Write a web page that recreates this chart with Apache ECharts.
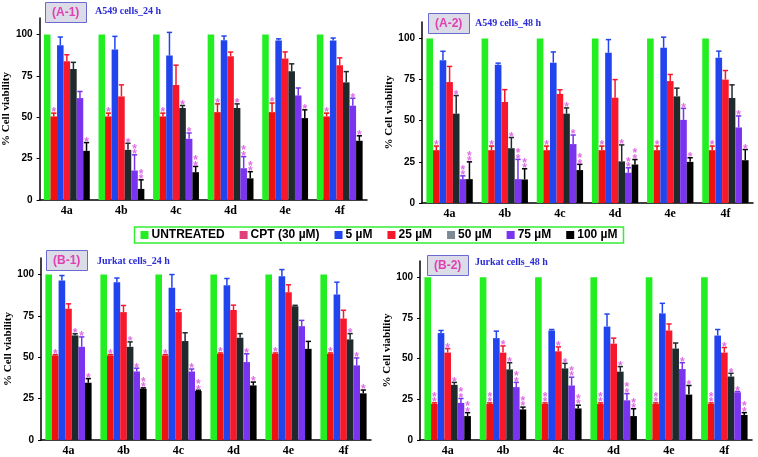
<!DOCTYPE html>
<html>
<head>
<meta charset="utf-8">
<script src="https://cdn.jsdelivr.net/npm/echarts@6/dist/echarts.min.js"></script>
<style>
  html, body { margin: 0; background: #fff; }
  #main { width: 758px; height: 457px; }
</style>
</head>
<body>
<div id="main"></div>
<script>
// categories + legend
const categories = ['4a', '4b', '4c', '4d', '4e', '4f'];
const seriesNames = ['UNTREATED', 'CPT (30 µM)', '5 µM', '25 µM', '50 µM', '75 µM', '100 µM'];
const untreated = [100, 100, 100, 100, 100, 100];

// rows: CPT, 5, 25, 50, 75, 100 µM
const a1Mean = [
  [50.5, 50.5, 50.5, 53.1, 53.1, 50.5],
  [93.5, 90.9, 87.3, 96.6, 96.4, 96.4],
  [83.8, 62.6, 69.5, 86.9, 85.5, 81.4],
  [79.2, 30.3, 55.6, 55.6, 77.8, 71.1],
  [61.6, 17.8, 37.0, 19.2, 63.2, 57.0],
  [29.7, 6.7, 16.8, 13.1, 49.5, 35.8]
];
const a1Err = [
  [2, 2, 2, 5, 5.5, 2],
  [5, 8, 14, 2.5, 1, 1.5],
  [4, 7, 12, 2.5, 4, 4.5],
  [4, 4, 1.5, 2.5, 4.5, 6.5],
  [4, 9.5, 3.5, 7, 4.5, 4.5],
  [5, 5.5, 3.5, 4, 5, 3]
];
const a1Star = [
  [1, 1, 1, 1, 1, 1],
  [0, 0, 0, 0, 0, 0],
  [0, 0, 0, 0, 0, 0],
  [0, 1, 1, 1, 0, 0],
  [0, 2, 1, 2, 0, 1],
  [1, 2, 2, 2, 1, 1]
];

const a2Mean = [
  [32.1, 32.1, 32.1, 32.1, 32.1, 32.1],
  [86.7, 84.0, 85.3, 91.3, 94.3, 88.3],
  [73.5, 61.4, 66.3, 64.0, 74.1, 75.0],
  [54.3, 33.3, 54.3, 25.3, 64.8, 63.8],
  [14.5, 14.5, 35.8, 18.4, 50.5, 45.9],
  [14.5, 14.3, 20.0, 23.4, 25.0, 26.0]
];
const a2Err = [
  [2.5, 2.5, 2.5, 2.5, 2.5, 2.5],
  [5.5, 1, 6.5, 8, 6.5, 4],
  [9.5, 7.5, 2.5, 11, 4, 5.5],
  [11, 6.5, 3.5, 10, 5, 8],
  [2, 12, 5.5, 3, 7, 7],
  [10.5, 6.5, 3.5, 3, 2.5, 6.5]
];
const a2Star = [
  [1, 1, 1, 1, 1, 1],
  [0, 0, 0, 0, 0, 0],
  [0, 0, 0, 0, 0, 0],
  [1, 1, 1, 1, 0, 0],
  [2, 2, 1, 2, 1, 1],
  [2, 2, 2, 2, 1, 1]
];

const b1Mean = [
  [51.1, 51.1, 51.1, 52.1, 52.1, 52.1],
  [96.4, 95.4, 92.0, 93.6, 99.0, 87.9],
  [79.3, 77.3, 77.3, 78.5, 89.3, 73.4],
  [63.2, 56.3, 59.8, 61.8, 80.9, 60.8],
  [56.3, 41.4, 41.4, 47.1, 68.8, 45.1],
  [34.6, 31.0, 29.6, 33.0, 55.1, 28.2]
];
const b1Err = [
  [0.5, 0.5, 0.5, 0.5, 0.5, 0.5],
  [3, 2.5, 8, 4, 4, 7.5],
  [3, 4, 1.5, 3, 4.5, 5],
  [1, 3, 5, 2.5, 0.5, 3.5],
  [6, 2, 1.5, 5, 3.5, 4.5],
  [2.5, 0.5, 0.5, 2, 4.5, 2]
];
const b1Star = [
  [1, 1, 1, 1, 1, 1],
  [0, 0, 0, 0, 0, 0],
  [0, 0, 0, 0, 0, 0],
  [1, 1, 0, 0, 0, 1],
  [1, 1, 1, 1, 0, 1],
  [1, 2, 2, 1, 0, 1]
];

const b2Mean = [
  [22.2, 22.2, 22.2, 22.2, 22.2, 22.2],
  [65.7, 62.6, 67.3, 69.7, 77.8, 64.2],
  [53.7, 53.7, 54.5, 59.2, 67.3, 53.7],
  [33.9, 43.4, 44.0, 42.0, 56.2, 39.0],
  [22.8, 32.5, 33.5, 24.4, 43.6, 29.3],
  [14.7, 18.8, 19.4, 14.7, 27.9, 15.4]
];
const b2Err = [
  [0.6, 0.6, 0.6, 0.6, 0.6, 0.6],
  [1.6, 4.3, 0.6, 7.7, 6.2, 3.7],
  [2.5, 4.1, 2.7, 3.4, 4, 3.1],
  [1.5, 4.1, 3.1, 3.1, 3.4, 2],
  [2.7, 2.9, 5.1, 4.1, 3.9, 0.5],
  [2.1, 1.4, 2, 4.5, 5.6, 1.4]
];
const b2Star = [
  [2, 2, 2, 2, 2, 2],
  [0, 0, 0, 0, 0, 0],
  [1, 1, 1, 0, 0, 1],
  [1, 1, 1, 1, 0, 1],
  [2, 2, 2, 2, 1, 1],
  [2, 2, 2, 2, 1, 2]
];

const yTicks = [0, 25, 50, 75, 100];

const colors = ['#22ee22', '#ee1111', '#2244ee', '#f7182c', '#1e2a2c', '#7a33ee', '#000000'];
const legendColors = ['#22ee22', '#e0407a', '#2244ee', '#f7182c', '#7d8a94', '#7a33ee', '#000000'];
const starColor = '#e070e6';
const CAT_GAP = 0.16;

const panels = [
  { mean: a1Mean, err: a1Err, star: a1Star, tag: '(A-1)', label: 'A549 cells_24 h',
    grid: { left: 37, right: 391, top: 18, bottom: 257 }, tagPos: [45, 2], labelPos: [95, 6] },
  { mean: a2Mean, err: a2Err, star: a2Star, tag: '(A-2)', label: 'A549 cells_48 h',
    grid: { left: 422, right: 5, top: 22, bottom: 254 }, tagPos: [428, 13], labelPos: [475, 18] },
  { mean: b1Mean, err: b1Err, star: b1Star, tag: '(B-1)', label: 'Jurkat cells_24 h',
    grid: { left: 41, right: 387, top: 258, bottom: 16 }, tagPos: [46, 250], labelPos: [97, 256] },
  { mean: b2Mean, err: b2Err, star: b2Star, tag: '(B-2)', label: 'Jurkat cells_48 h',
    grid: { left: 420, right: 6, top: 261, bottom: 14 }, tagPos: [427, 255], labelPos: [475, 257] }
];

function errRender(params, api) {
  const cat = api.value(0), s = api.value(1), mean = api.value(2), err = api.value(3), n = api.value(4);
  const band = api.size([1, 0])[0];
  const bw = band * (1 - CAT_GAP) / 7;
  const x = api.coord([cat, 0])[0] - 3.5 * bw + (s + 0.5) * bw;
  const y0 = api.coord([cat, mean])[1];
  const y1 = api.coord([cat, mean + err])[1];
  const c = colors[s];
  const kids = [
    { type: 'line', shape: { x1: x, y1: y0, x2: x, y2: y1 }, style: { stroke: c, lineWidth: 1.5 } },
    { type: 'line', shape: { x1: x - bw * 0.4, y1: y1, x2: x + bw * 0.4, y2: y1 }, style: { stroke: c, lineWidth: 1.5 } }
  ];
  for (let k = 0; k < n; k++) {
    kids.push({ type: 'text', style: { text: '*', x: x, y: y1 - k * 5.5, fill: starColor,
      font: 'bold 12px "Liberation Sans"', align: 'center', verticalAlign: 'middle' } });
  }
  return { type: 'group', children: kids };
}

const grid = [], xAxis = [], yAxis = [], series = [], title = [];

panels.forEach((p, i) => {
  grid.push(p.grid);
  xAxis.push({
    type: 'category', gridIndex: i, data: categories,
    axisLine: { lineStyle: { color: '#000', width: 1.5 } },
    axisTick: { length: 3, lineStyle: { color: '#000' } },
    axisLabel: { color: '#000', fontSize: 12, fontWeight: 'bold', fontFamily: 'Liberation Serif', margin: 5 }
  });
  yAxis.push({
    type: 'value', gridIndex: i, min: 0, max: 110, interval: 25,
    name: '% Cell viability', nameLocation: 'middle', nameGap: 27,
    nameTextStyle: { color: '#000', fontSize: 11, fontWeight: 'bold', fontFamily: 'Liberation Serif' },
    axisLine: { show: true, lineStyle: { color: '#000', width: 1.5 } },
    axisTick: { show: true, length: 3, customValues: yTicks, lineStyle: { color: '#000' } },
    axisLabel: { color: '#000', fontSize: 10, fontWeight: 'bold', fontFamily: 'Liberation Sans', margin: 7, customValues: yTicks },
    splitLine: { show: false }
  });
  const all = [untreated].concat(p.mean);
  all.forEach((vals, s) => {
    series.push({
      type: 'bar', name: seriesNames[s], xAxisIndex: i, yAxisIndex: i, data: vals,
      barGap: '0%', barCategoryGap: (CAT_GAP * 100) + '%',
      itemStyle: { color: colors[s] }, silent: true
    });
  });
  const ebData = [];
  p.mean.forEach((row, r) => {
    row.forEach((v, c) => ebData.push([c, r + 1, v, p.err[r][c], p.star[r][c]]));
  });
  series.push({
    type: 'custom', xAxisIndex: i, yAxisIndex: i, data: ebData,
    encode: { x: 0, y: 2 }, renderItem: errRender, silent: true, z: 5
  });
  title.push({
    text: p.tag, left: p.tagPos[0], top: p.tagPos[1],
    backgroundColor: '#dcdce8', borderColor: '#6a6ad0', borderWidth: 1, padding: [3, 7, 3, 7],
    textStyle: { color: '#e040b0', fontSize: 12, fontWeight: 'bold', fontFamily: 'Liberation Sans', lineHeight: 15 }
  });
  title.push({
    text: p.label, left: p.labelPos[0], top: p.labelPos[1], padding: 0,
    textStyle: { color: '#2a2ad8', fontSize: 10, fontWeight: 'bold', fontFamily: 'Liberation Serif' }
  });
});

const chart = echarts.init(document.getElementById('main'));
chart.setOption({
  animation: false,
  title: title,
  grid: grid,
  xAxis: xAxis,
  yAxis: yAxis,
  legend: {
    left: 'center', top: 227, padding: [2, 6], borderColor: '#33ee33', borderWidth: 1.5,
    itemWidth: 8, itemHeight: 8, itemGap: 15, icon: 'rect',
    data: seriesNames.map((n, k) => ({ name: n, itemStyle: { color: legendColors[k] } })),
    textStyle: { color: '#000', fontSize: 12, fontWeight: 'bold', fontFamily: 'Liberation Sans', padding: [0, 0, 0, -2] }
  },
  series: series
});
</script>
</body>
</html>
